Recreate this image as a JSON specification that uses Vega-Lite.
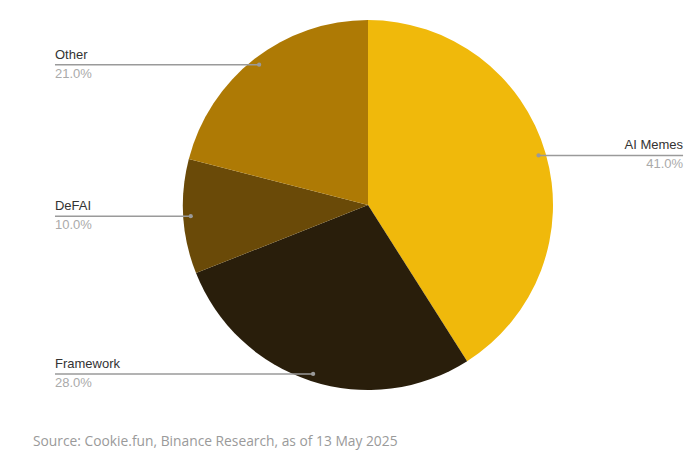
{
  "$schema": "https://vega.github.io/schema/vega-lite/v6.json",
  "width": 699,
  "height": 458,
  "autosize": "none",
  "padding": 0,
  "background": "white",
  "config": {"view": {"stroke": null}},
  "title": {
    "text": "Source: Cookie.fun, Binance Research, as of 13 May 2025",
    "orient": "bottom",
    "anchor": "start",
    "frame": "group",
    "offset": -23,
    "dx": 33,
    "font": "Open Sans",
    "fontSize": 13.8,
    "fontWeight": "normal",
    "color": "#9a9a9a"
  },
  "data": {
    "values": [
      {"category": "AI Memes", "value": 41, "order": 1},
      {"category": "Framework", "value": 28, "order": 2},
      {"category": "DeFAI", "value": 10, "order": 3},
      {"category": "Other", "value": 21, "order": 4}
    ]
  },
  "transform": [
    {"window": [{"op": "sum", "field": "value", "as": "cum"}], "sort": [{"field": "order"}], "frame": [null, 0]},
    {"calculate": "(datum.cum - datum.value / 2) / 100", "as": "mid"},
    {"calculate": "0.96 * sin(2 * PI * datum.mid)", "as": "ux"},
    {"calculate": "0.96 * cos(2 * PI * datum.mid)", "as": "uy"},
    {"calculate": "datum.ux < 0 ? -1.692 : 1.703", "as": "lx"},
    {"calculate": "datum.value / 100", "as": "pct"}
  ],
  "layer": [
    {
      "mark": {"type": "arc", "outerRadius": 185},
      "encoding": {
        "theta": {"field": "value", "type": "quantitative", "stack": true},
        "order": {"field": "order", "type": "quantitative"},
        "x": {"datum": 0, "type": "quantitative", "scale": {"domain": [-1.9892, 1.7892]}, "axis": null},
        "y": {"datum": 0, "type": "quantitative", "scale": {"domain": [-1.3676, 1.1081]}, "axis": null},
        "color": {
          "field": "category",
          "type": "nominal",
          "scale": {"domain": ["AI Memes", "Framework", "DeFAI", "Other"], "range": ["#F0B90B", "#291E0B", "#6A4A08", "#AE7A05"]},
          "legend": null
        }
      }
    },
    {
      "mark": {"type": "rule", "color": "#9a9a9a", "strokeWidth": 1.5},
      "encoding": {
        "x": {"field": "lx", "type": "quantitative", "scale": {"domain": [-1.9892, 1.7892]}, "axis": null},
        "x2": {"field": "ux"},
        "y": {"field": "uy", "type": "quantitative", "scale": {"domain": [-1.3676, 1.1081]}, "axis": null}
      }
    },
    {
      "mark": {"type": "point", "filled": true, "color": "#9a9a9a", "size": 18, "opacity": 1},
      "encoding": {
        "x": {"field": "ux", "type": "quantitative", "scale": {"domain": [-1.9892, 1.7892]}, "axis": null},
        "y": {"field": "uy", "type": "quantitative", "scale": {"domain": [-1.3676, 1.1081]}, "axis": null}
      }
    },
    {
      "transform": [{"filter": "datum.ux < 0"}],
      "mark": {"type": "text", "align": "left", "baseline": "bottom", "dy": -3, "font": "Liberation Sans", "fontSize": 13, "color": "#333333"},
      "encoding": {
        "x": {"field": "lx", "type": "quantitative", "scale": {"domain": [-1.9892, 1.7892]}, "axis": null},
        "y": {"field": "uy", "type": "quantitative", "scale": {"domain": [-1.3676, 1.1081]}, "axis": null},
        "text": {"field": "category"}
      }
    },
    {
      "transform": [{"filter": "datum.ux < 0"}],
      "mark": {"type": "text", "align": "left", "baseline": "top", "dy": 3, "font": "Liberation Sans", "fontSize": 13, "color": "#aaaaaa"},
      "encoding": {
        "x": {"field": "lx", "type": "quantitative", "scale": {"domain": [-1.9892, 1.7892]}, "axis": null},
        "y": {"field": "uy", "type": "quantitative", "scale": {"domain": [-1.3676, 1.1081]}, "axis": null},
        "text": {"field": "pct", "type": "quantitative", "format": ".1%"}
      }
    },
    {
      "transform": [{"filter": "datum.ux >= 0"}],
      "mark": {"type": "text", "align": "right", "baseline": "bottom", "dy": -3, "font": "Liberation Sans", "fontSize": 13, "color": "#333333"},
      "encoding": {
        "x": {"field": "lx", "type": "quantitative", "scale": {"domain": [-1.9892, 1.7892]}, "axis": null},
        "y": {"field": "uy", "type": "quantitative", "scale": {"domain": [-1.3676, 1.1081]}, "axis": null},
        "text": {"field": "category"}
      }
    },
    {
      "transform": [{"filter": "datum.ux >= 0"}],
      "mark": {"type": "text", "align": "right", "baseline": "top", "dy": 3, "font": "Liberation Sans", "fontSize": 13, "color": "#aaaaaa"},
      "encoding": {
        "x": {"field": "lx", "type": "quantitative", "scale": {"domain": [-1.9892, 1.7892]}, "axis": null},
        "y": {"field": "uy", "type": "quantitative", "scale": {"domain": [-1.3676, 1.1081]}, "axis": null},
        "text": {"field": "pct", "type": "quantitative", "format": ".1%"}
      }
    }
  ]
}
